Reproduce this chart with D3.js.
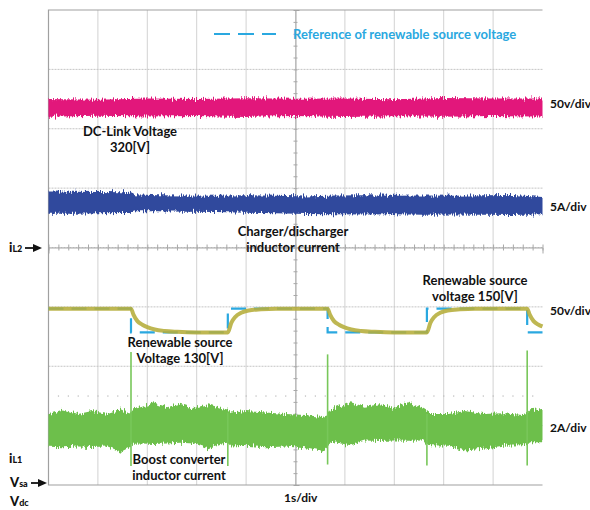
<!DOCTYPE html>
<html>
<head>
<meta charset="utf-8">
<script src="https://cdn.jsdelivr.net/npm/d3@7"></script>
<style>
  html, body { margin: 0; padding: 0; background: #fff; }
  svg { display: block; }
  text { font-family: Lato, "Noto Sans", sans-serif; }
</style>
</head>
<body>
<svg id="scope" width="590" height="510"></svg>
<script>
// ---------- time base (1 s/div, 10 div) ----------
const timeDomain = [0, 10];

// ---------- renewable source voltage reference (V) ----------
const refTimes = [0, 1.67, 3.63, 5.65, 7.66, 9.69, 10];
const refVolts = [150, 130, 150, 130, 150, 130, 130];

// ---------- measured renewable source voltage Vsa (V) ----------
const vsaTimes = [0, 1.67, 1.72, 1.8, 1.9, 2.0, 2.15, 2.35, 2.6, 3.0, 3.63,
                  3.7, 3.78, 3.9, 4.05, 4.3, 4.6, 5.0, 5.65,
                  5.7, 5.78, 5.88, 5.98, 6.13, 6.33, 6.6, 7.0, 7.66,
                  7.73, 7.81, 7.93, 8.08, 8.33, 8.63, 9.0, 9.69,
                  9.74, 9.82, 9.92, 10];
const vsaVolts = [150, 150, 145, 139.5, 136.5, 134.5, 132.5, 131.2, 130.5, 130, 130,
                  138, 143, 146.5, 148.5, 149.5, 150, 150, 150,
                  145, 139.5, 136.5, 134.5, 132.5, 131.2, 130.5, 130, 130,
                  138, 143, 146.5, 148.5, 149.5, 150, 150, 150,
                  145, 139.5, 136.5, 135];

// ---------- DC-link voltage Vdc envelope (V) ----------
const vdcTimes = [0, 1, 2, 3, 4, 5, 6, 7, 8, 9, 10];
const vdcUpper = [326.5, 326.0, 327.0, 326.5, 327.2, 326.8, 327.0, 326.4, 327.3, 326.9, 327.0];
const vdcLower = [311.6, 312.4, 311.8, 312.3, 311.5, 312.2, 311.4, 312.0, 311.6, 312.2, 311.8];

// ---------- charger/discharger inductor current iL2 envelope (A) ----------
const il2Times = [0, 0.5, 1.0, 1.5, 1.65, 1.75, 2.2, 2.8, 3.4, 4.0, 4.6, 5.2, 5.8, 6.4, 7.0, 7.6, 8.2, 8.8, 9.4, 10];
const il2Upper = [4.72, 4.70, 4.68, 4.65, 4.70, 4.48, 4.40, 4.38, 4.35, 4.40, 4.36, 4.30, 4.38, 4.40, 4.35, 4.38, 4.36, 4.40, 4.42, 4.25];
const il2Lower = [2.85, 2.85, 2.88, 2.90, 2.90, 3.05, 3.05, 3.02, 2.98, 2.92, 2.88, 2.82, 2.80, 2.78, 2.80, 2.76, 2.78, 2.75, 2.74, 2.80];

// ---------- boost converter inductor current iL1 envelope (A) ----------
const il1Times = [0, 0.29, 0.6, 0.88, 1.2, 1.47, 1.64, 1.7, 1.9, 2.12, 2.4, 2.66, 2.95, 3.23, 3.5, 3.62,
                  3.7, 4.0, 4.4, 4.8, 5.2, 5.54, 5.64, 5.72, 6.12, 6.4, 6.71, 7.0, 7.28, 7.6, 7.66,
                  7.75, 8.1, 8.43, 8.8, 9.2, 9.6, 9.68, 9.75, 10];
const il1Upper = [2.44, 2.60, 2.45, 2.55, 2.45, 2.60, 2.47, 2.60, 2.70, 2.85, 2.68, 2.80, 2.65, 2.78, 2.65, 2.60,
                  2.50, 2.55, 2.50, 2.45, 2.42, 2.35, 2.40, 2.60, 2.85, 2.70, 2.78, 2.65, 2.85, 2.62, 2.55,
                  2.45, 2.45, 2.55, 2.45, 2.48, 2.42, 2.45, 2.58, 2.62];
const il1Lower = [1.35, 1.33, 1.36, 1.34, 1.36, 1.18, 1.33, 1.45, 1.46, 1.44, 1.46, 1.48, 1.46, 1.30, 1.46, 1.48,
                  1.36, 1.38, 1.33, 1.36, 1.30, 1.18, 1.32, 1.52, 1.40, 1.56, 1.54, 1.56, 1.55, 1.56, 1.42,
                  1.40, 1.38, 1.22, 1.28, 1.38, 1.40, 1.40, 1.50, 1.50];
const il1SpikeTimes = [1.67, 3.63, 5.65, 7.66, 9.69];
const il1SpikeHigh  = [4.54, 2.50, 4.46, 2.45, 4.59];
const il1SpikeLow   = [0.70, 0.70, 0.75, 0.72, 0.72];

// ---------- screen labels ----------
const scaleLabels = ["50v/div", "5A/div", "50v/div", "2A/div"];
const timeLabel = "1s/div";

// ---------- channel settings (units per div, ground position in div) ----------
const channels = {
  vdc: { perDiv: 50, ground: -4.03 },
  il2: { perDiv: 5,  ground: 0 },
  vsa: { perDiv: 50, ground: -4.03 },
  il1: { perDiv: 2,  ground: -4.03 }
};

const svg = d3.select("#scope");
const screen = { left: 48.5, right: 542.5, top: 10, bottom: 485 };

const x = d3.scaleLinear().domain(timeDomain).range([screen.left, screen.right]);
const yDiv = d3.scaleLinear().domain([4, -4]).range([screen.top, screen.bottom]);
const chanScale = c => d3.scaleLinear()
  .domain([0, c.perDiv])
  .range([yDiv(c.ground), yDiv(c.ground + 1)]);

const yVdc = chanScale(channels.vdc);
const yIl2 = chanScale(channels.il2);
const yVsa = chanScale(channels.vsa);
const yIl1 = chanScale(channels.il1);

// ---------- noise texture for the acquired traces ----------
const defs = svg.append("defs");
const flt = defs.append("filter").attr("id", "acq")
  .attr("x", "-1%").attr("y", "-80%").attr("width", "102%").attr("height", "260%")
  .attr("color-interpolation-filters", "sRGB");
flt.append("feTurbulence").attr("type", "fractalNoise")
  .attr("baseFrequency", "0.9 0.07").attr("numOctaves", 2).attr("seed", 7).attr("result", "n");
flt.append("feColorMatrix").attr("in", "n").attr("type", "matrix")
  .attr("values", "0 0 0 0 0.5  0 1 0 0 0  0 0 0 0 0  0 0 0 0 1").attr("result", "m");
flt.append("feDisplacementMap").attr("in", "SourceGraphic").attr("in2", "m")
  .attr("scale", 9).attr("xChannelSelector", "R").attr("yChannelSelector", "G");

// ---------- graticule ----------
const grid = svg.append("g");
grid.selectAll("line.v").data(d3.range(1, 10)).enter().append("line")
  .attr("x1", d => x(d)).attr("x2", d => x(d))
  .attr("y1", screen.top).attr("y2", screen.bottom)
  .attr("stroke", "#d2d2d2").attr("stroke-width", 1);
grid.selectAll("line.h").data(d3.range(-3, 4)).enter().append("line")
  .attr("x1", screen.left).attr("x2", screen.right)
  .attr("y1", d => yDiv(d)).attr("y2", d => yDiv(d))
  .attr("stroke", "#c4c4c4").attr("stroke-width", 1).attr("stroke-dasharray", "2,1");

// centre axes with minor ticks
const hAxis = d3.axisBottom(x).tickValues(d3.range(0, 10.001, 0.2)).tickSize(6).tickFormat("");
grid.append("g").attr("transform", `translate(0,${yDiv(0) - 3})`).call(hAxis)
  .call(g => g.select(".domain").attr("transform", "translate(0,3)"))
  .call(g => g.selectAll("line,path").attr("stroke", "#a8a8a8"));
const vAxis = d3.axisRight(yDiv).tickValues(d3.range(-4, 4.001, 0.2)).tickSize(4).tickFormat("");
grid.append("g").attr("transform", `translate(${x(5) - 2},0)`).call(vAxis)
  .call(g => g.select(".domain").attr("transform", "translate(2,0)"))
  .call(g => g.selectAll("line,path").attr("stroke", "#a8a8a8"));

// dotted marker row
grid.selectAll("rect.dot").data(d3.range(0.2, 10, 0.2)).enter().append("rect")
  .attr("x", d => x(d) - 0.5).attr("y", yDiv(-2.5) - 0.5)
  .attr("width", 1.2).attr("height", 1.2).attr("fill", "#b8b8b8");

// frame
grid.append("path")
  .attr("d", `M${screen.right},${screen.top}H${screen.left}V${screen.bottom}H${screen.right}`)
  .attr("fill", "none").attr("stroke", "#a0a0a0").attr("stroke-width", 1.2);

// ---------- traces ----------
function band(times, upper, lower, yS) {
  return d3.area()
    .x((d, i) => x(times[i]))
    .y0((d, i) => yS(lower[i]))
    .y1((d, i) => yS(upper[i]))(times);
}

svg.append("path").attr("d", band(vdcTimes, vdcUpper, vdcLower, yVdc))
  .attr("fill", "#e2177b").attr("filter", "url(#acq)");

svg.append("path").attr("d", band(il2Times, il2Upper, il2Lower, yIl2))
  .attr("fill", "#30499d").attr("filter", "url(#acq)");

svg.append("path").attr("d", band(il1Times, il1Upper, il1Lower, yIl1))
  .attr("fill", "#6dbf4b").attr("filter", "url(#acq)");

svg.append("g").selectAll("line").data(il1SpikeTimes).enter().append("line")
  .attr("x1", d => x(d)).attr("x2", d => x(d))
  .attr("y1", (d, i) => yIl1(il1SpikeHigh[i]))
  .attr("y2", (d, i) => yIl1(il1SpikeLow[i]))
  .attr("stroke", "#78c75a").attr("stroke-width", 1.6);

// reference (step) and measured source voltage
const refLine = d3.line().curve(d3.curveStepAfter)
  .x((d, i) => x(refTimes[i])).y((d, i) => yVsa(refVolts[i]));
svg.append("path").attr("d", refLine(refTimes))
  .attr("fill", "none").attr("stroke", "#2aa8e0").attr("stroke-width", 2.2)
  .attr("stroke-dasharray", "15,8");

const vsaLine = d3.line().curve(d3.curveMonotoneX)
  .x((d, i) => x(vsaTimes[i])).y((d, i) => yVsa(vsaVolts[i]));
svg.append("path").attr("d", vsaLine(vsaTimes))
  .attr("fill", "none").attr("stroke", "#b5ad3a").attr("stroke-width", 4)
  .attr("stroke-opacity", 0.88).attr("stroke-linejoin", "round");

// ---------- legend ----------
svg.append("line").attr("x1", 214).attr("x2", 276).attr("y1", 34).attr("y2", 34)
  .attr("stroke", "#2aa8e0").attr("stroke-width", 2.2).attr("stroke-dasharray", "16,8");
svg.append("text").attr("x", 293).attr("y", 38.5)
  .attr("font-size", 13).attr("font-weight", 700).attr("fill", "#2aa8e0")
  .text("Reference of renewable source voltage");

// ---------- annotations ----------
const notes = [
  { lines: ["DC-Link Voltage", "320[V]"], cx: 130, y: 136 },
  { lines: ["Charger/discharger", "inductor current"], cx: 293, y: 236 },
  { lines: ["Renewable source", "Voltage 130[V]"], cx: 180, y: 347 },
  { lines: ["Renewable source", "voltage 150[V]"], cx: 475, y: 285 },
  { lines: ["Boost converter", "inductor current"], cx: 179, y: 464 }
];
notes.forEach(n => {
  const t = svg.append("text").attr("text-anchor", "middle")
    .attr("font-size", 13).attr("font-weight", 700).attr("fill", "#111");
  n.lines.forEach((s, i) => t.append("tspan").attr("x", n.cx).attr("y", n.y + i * 15.5).text(s));
});

// volts/amps per division
const scaleY = [108, 211, 315, 432];
scaleLabels.forEach((s, i) => {
  svg.append("text").attr("x", 550).attr("y", scaleY[i])
    .attr("font-size", 12).attr("font-weight", 700).attr("fill", "#111").text(s);
});
svg.append("text").attr("x", 284).attr("y", 502)
  .attr("font-size", 12).attr("font-weight", 700).attr("fill", "#111").text(timeLabel);

// ground markers
function marker(main, sub, px, py) {
  const t = svg.append("text").attr("x", px).attr("y", py)
    .attr("font-weight", 900).attr("fill", "#111");
  t.append("tspan").attr("font-size", 13).text(main);
  t.append("tspan").attr("font-size", 9).text(sub);
}
marker("i", "L2", 9, 252);
marker("i", "L1", 9, 463);
marker("V", "sa", 10, 487);
marker("V", "dc", 10, 506);

function arrow(x1, x2, yy) {
  svg.append("line").attr("x1", x1).attr("x2", x2 - 6).attr("y1", yy).attr("y2", yy)
    .attr("stroke", "#111").attr("stroke-width", 1.8);
  svg.append("path").attr("d", `M${x2},${yy}L${x2 - 9},${yy - 4}L${x2 - 9},${yy + 4}Z`).attr("fill", "#111");
}
arrow(25, 42, 248);
arrow(31, 47, 483);
</script>
</body>
</html>
